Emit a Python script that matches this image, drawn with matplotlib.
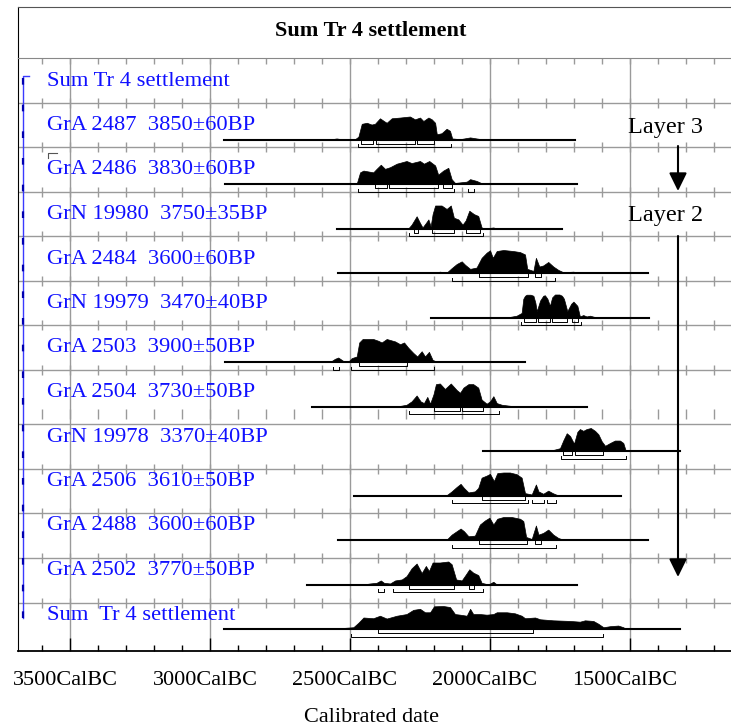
import matplotlib.pyplot as plt
import matplotlib.transforms as mtransforms
import numpy as np

plt.rcParams['font.family'] = ['Liberation Serif', 'DejaVu Serif']

title = "Sum Tr 4 settlement"
labels = ["Sum Tr 4 settlement",
          "GrA 2487  3850\u00b160BP",
          "GrA 2486  3830\u00b160BP",
          "GrN 19980  3750\u00b135BP",
          "GrA 2484  3600\u00b160BP",
          "GrN 19979  3470\u00b140BP",
          "GrA 2503  3900\u00b150BP",
          "GrA 2504  3730\u00b150BP",
          "GrN 19978  3370\u00b140BP",
          "GrA 2506  3610\u00b150BP",
          "GrA 2488  3600\u00b160BP",
          "GrA 2502  3770\u00b150BP",
          "Sum  Tr 4 settlement"]

# probability outlines: (cal BC, relative height)
gra2487 = [(2571, 0), (2548, 1), (2524, 0), (2482, 0.3), (2470, 2.7), (2458, 15), (2440, 16),
           (2423, 14.3), (2411, 15), (2393, 20.3), (2379, 17.7), (2369, 16), (2351, 20.3),
           (2321, 21), (2286, 22), (2268, 19.3), (2250, 21), (2238, 17.7), (2220, 21),
           (2208, 19.3), (2196, 16), (2190, 5), (2173, 6), (2155, 10.3), (2143, 8.3),
           (2135, 1), (2107, 0.3), (2071, 2), (2048, 1), (2024, 0)]
gra2486 = [(2560, 0), (2542, 1), (2524, 0), (2476, 0.3), (2464, 11.3), (2452, 13), (2417, 11.3),
           (2405, 14.7), (2390, 18.7), (2375, 14.7), (2357, 16.3), (2333, 19.7), (2298, 22.3),
           (2280, 20.3), (2250, 22.3), (2236, 19.7), (2217, 22.3), (2196, 18), (2185, 9),
           (2167, 13), (2149, 15.7), (2137, 4.7), (2125, 1), (2083, 2.3), (2071, 4.7),
           (2048, 3), (2024, 0)]
grn19980 = [(2292, 0), (2280, 3.7), (2262, 11.7), (2250, 5.3), (2241, 1), (2229, 5.3), (2220, 8.7),
            (2212, 2), (2205, 13.7), (2196, 22), (2173, 22), (2155, 18.7), (2140, 22),
            (2129, 10.3), (2113, 8.7), (2098, 3.7), (2087, 7.7), (2074, 17), (2057, 13.7),
            (2042, 12), (2030, 1), (2018, 0), (1988, 1), (1976, 0)]
gra2484 = [(2202, 0), (2179, 1.3), (2155, 0.3), (2137, 4.7), (2119, 8.7), (2101, 11.3), (2089, 8),
           (2071, 4), (2048, 5.3), (2030, 14.7), (2012, 19.7), (2000, 22), (1990, 14.7),
           (1976, 21.3), (1952, 22.3), (1917, 21.3), (1893, 20.3), (1875, 18), (1867, 4),
           (1845, 2), (1836, 14.7), (1824, 6.3), (1810, 7.3), (1792, 10.7), (1774, 6.3),
           (1756, 3), (1738, 0.7), (1702, 1.3), (1685, 0)]
grn19979 = [(1940, 0), (1905, 1.7), (1887, 4.3), (1881, 17.7), (1875, 20.5), (1869, 21.5),
            (1855, 21.5), (1845, 20.5), (1838, 14), (1833, 6), (1821, 16), (1810, 20.5),
            (1804, 21), (1795, 17.7), (1786, 11), (1778, 19), (1768, 21.7), (1752, 21.7),
            (1743, 20.5), (1736, 17.7), (1724, 6), (1710, 13), (1702, 15), (1688, 11),
            (1679, 1), (1667, 2.3), (1655, 1), (1643, 1.7), (1619, 0)]
gra2503 = [(2571, 0), (2554, 3), (2542, 4.3), (2524, 1), (2506, 0.3), (2494, 3.7), (2476, 5.3),
           (2467, 18.7), (2455, 22), (2417, 22), (2399, 20.3), (2387, 18.7), (2369, 22),
           (2339, 19.7), (2321, 17), (2307, 18.7), (2292, 13.7), (2274, 8.7), (2260, 5.3),
           (2244, 10.3), (2232, 5.3), (2218, 9.7), (2205, 2), (2190, 0.3), (2155, 1), (2131, 0)]
gra2504 = [(2333, 0), (2298, 1.7), (2280, 5), (2262, 10.7), (2248, 5), (2236, 3.3), (2224, 9.3),
           (2214, 2.7), (2202, 11.7), (2193, 21.7), (2179, 22.3), (2161, 17), (2140, 22.3),
           (2119, 16), (2107, 13.3), (2095, 18.3), (2077, 21.7), (2060, 21.7), (2042, 18.3),
           (2030, 6.7), (2012, 2.7), (2000, 5), (1988, 10), (1976, 3.3), (1958, 1.7),
           (1929, 0.7), (1905, 0)]
grn19978 = [(1869, 0), (1851, 1), (1821, 0.3), (1774, 1), (1750, 2.7), (1738, 10.3), (1726, 17),
            (1714, 14.3), (1700, 7), (1688, 18.3), (1679, 21), (1667, 19.3), (1655, 21),
            (1640, 22), (1625, 19.3), (1613, 16), (1601, 9.3), (1589, 5), (1571, 7.7),
            (1554, 10), (1536, 10), (1524, 7.7), (1515, 0)]
gra2506 = [(2190, 0), (2155, 0.3), (2137, 4), (2119, 8.3), (2105, 11.3), (2093, 7.3), (2077, 3),
           (2054, 4), (2042, 7.3), (2030, 17.3), (2012, 19.3), (2000, 21), (1986, 14),
           (1974, 21.7), (1952, 22.3), (1929, 22.3), (1905, 20.7), (1887, 17.3), (1875, 2.3),
           (1851, 1), (1836, 10.7), (1827, 4), (1810, 1.7), (1792, 4.7), (1776, 2.3),
           (1762, 0.7), (1738, 0)]
gra2488 = [(2202, 0), (2185, 1), (2155, 0.3), (2137, 5.3), (2119, 8.7), (2105, 11.3), (2093, 8.7),
           (2077, 3.7), (2054, 4.3), (2036, 15.3), (2018, 19.3), (2002, 22), (1988, 15.3),
           (1974, 21), (1952, 22.7), (1923, 22.7), (1893, 21), (1881, 18.7), (1871, 3),
           (1851, 1), (1836, 14.3), (1827, 5.3), (1810, 7), (1792, 10.3), (1774, 5.3),
           (1756, 2), (1738, 0.3), (1702, 0.7), (1685, 0)]
gra2502 = [(2452, 0), (2429, 1), (2405, 1.7), (2390, 4), (2379, 1.7), (2357, 1), (2339, 4),
           (2315, 5), (2298, 8.3), (2280, 16), (2262, 20.7), (2244, 11.3), (2229, 18.3),
           (2218, 13.3), (2205, 21.7), (2179, 21.7), (2149, 22.7), (2137, 20), (2121, 5),
           (2101, 4), (2086, 10), (2074, 15), (2060, 11.7), (2042, 9.3), (2030, 1.7),
           (2006, 0), (1988, 2.7), (1976, 0)]
sum_tr4 = [(2548, 0), (2524, 1), (2488, 1.7), (2470, 6), (2452, 11), (2417, 10.3), (2393, 12.7),
           (2369, 10), (2333, 12.7), (2298, 14.3), (2274, 18.3), (2250, 19.3), (2232, 16),
           (2214, 16), (2200, 21.7), (2167, 22), (2143, 21), (2125, 14.3), (2107, 13.7),
           (2083, 12.7), (2071, 19.3), (2060, 14.3), (2036, 14.3), (2012, 13.7), (1988, 14.3),
           (1976, 16), (1940, 16), (1911, 15), (1887, 12.7), (1875, 10.3), (1839, 11),
           (1821, 9.3), (1774, 8.3), (1714, 7.7), (1679, 7), (1661, 8.3), (1631, 7.7),
           (1613, 5), (1595, 1.7), (1571, 2.7), (1542, 3.3), (1524, 1.7), (1514, 0)]

curves = [None, gra2487, gra2486, grn19980, gra2484, grn19979, gra2503, gra2504,
          grn19978, gra2506, gra2488, gra2502, sum_tr4]

# extent of each baseline (cal BC)
spans = [None, (2950, 1696), (2946, 1690), (2548, 1744), (2542, 1437), (2211, 1432),
         (2946, 1875), (2637, 1655), (2024, 1321), (2485, 1532), (2544, 1437),
         (2655, 1688), (2950, 1321)]

one_sigma = [None,
             [(2462, 2419), (2408, 2268), (2260, 2199)],
             [(2410, 2367), (2360, 2187), (2169, 2137)],
             [(2270, 2258), (2208, 2128), (2087, 2036)],
             [(2038, 1865), (1839, 1818)],
             [(1877, 1837), (1827, 1786), (1777, 1726), (1708, 1685)],
             [(2468, 2298)],
             [(2200, 2107), (2099, 2026)],
             [(1738, 1708), (1696, 1598)],
             [(2027, 1875)],
             [(2038, 1867), (1839, 1818)],
             [(2288, 2128), (2076, 2056)],
             [(2399, 1848)]]
two_sigma = [None,
             [(2470, 2139)],
             [(2470, 2128), (2077, 2056)],
             [(2288, 2026)],
             [(2137, 1768)],
             [(1888, 1676)],
             [(2560, 2539), (2498, 2199)],
             [(2288, 1967)],
             [(1748, 1515)],
             [(2137, 1865), (1849, 1806), (1798, 1765)],
             [(2137, 1765)],
             [(2399, 2377), (2348, 2026)],
             [(2498, 1598)]]

major_years = [3500, 3000, 2500, 2000, 1500]
minor_years = list(range(3600, 1100, -100))

# ---- layout (pixels of the 731x727 canvas) ----
W, H = 731, 727
PX = 44.5            # pixels per row
TOP, BOT = 58, 651


def fbox(l, t, r, b):
    return [l / W, 1 - b / H, (r - l) / W, (b - t) / H]


def xd(px):          # canvas pixel -> cal BC
    return 3750 - px * 100 / 28


def yd(py):          # canvas pixel -> row units
    return (py - TOP) / PX


fig = plt.figure(figsize=(W / 100, H / 100), dpi=100)
ax = fig.add_axes(fbox(18, TOP, 731, BOT))
tax = fig.add_axes(fbox(18, 7, 731, TOP))

ax.set_xlim(xd(18), xd(731))
ax.set_ylim((BOT - TOP) / PX, 0)

grid_c = '#9a9a9a'
for yr in major_years:
    ax.axvline(yr, color=grid_c, lw=1, zorder=0)
row_lines = [1, 2, 3, 4, 5, 6, 7, 8.22, 9.24, 10.22, 11.24, 12.25]
for y in row_lines:
    ax.axhline(y, color=grid_c, lw=1, zorder=0)
tick_rows = [1, 2, 3, 4, 5, 6, 7, 8, 9.24, 10.22, 11.24, 12.25]
for y in tick_rows:
    ax.vlines(minor_years, y - 5 / PX, y + 5 / PX, color=grid_c, lw=1, zorder=0)
ax.vlines(minor_years, 0, 6 / PX, color=grid_c, lw=1, zorder=0)

# ---- distributions ----
H_PEAK = 23 / PX
for i, lab in enumerate(labels):
    base = i + 37 / PX
    ax.text(xd(47), base - 9.5 / PX, lab, color='#1010ff', fontsize=16.2,
            ha='left', va='baseline', zorder=5)
    if curves[i] is None:
        continue
    yrs = np.array([p[0] for p in curves[i]], dtype=float)
    den = np.array([p[1] for p in curves[i]], dtype=float)
    den = den / den.max()
    ax.fill_between(yrs, base, base - den * H_PEAK, color='black', lw=0.5, zorder=3)
    ax.plot(spans[i], [base, base], color='black', lw=1.5, zorder=3)
    for a, b in one_sigma[i]:
        y0, y1 = base + 1 / PX, base + 4 / PX
        ax.plot([a, a, b, b], [y0, y1, y1, y0], color='black', lw=0.7, zorder=3)
    for a, b in two_sigma[i]:
        y0, y1 = base + 4.5 / PX, base + 7.5 / PX
        ax.plot([a, a, b, b], [y0, y1, y1, y0], color='black', lw=0.7, zorder=3)

# blue bracket at the left
ax.plot([xd(29), xd(23), xd(23)], [yd(76), yd(76), yd(618)], color='#3a3aff', lw=1, zorder=4)
ax.plot([xd(22.7), xd(22.7)], [yd(78), yd(618)], color='#0000b0', lw=1.6,
        dashes=(3, 9), zorder=4)
ax.plot([xd(57), xd(48), xd(48)], [yd(153.3), yd(153.3), yd(158)], color='#555555',
        lw=0.8, zorder=4)

# layer arrows
ax.text(xd(666), yd(133.5), 'Layer 3', fontsize=17.5, ha='center', va='baseline')
ax.text(xd(666), yd(220.5), 'Layer 2', fontsize=17.5, ha='center', va='baseline')
arrow = dict(arrowstyle='-|>,head_length=0.55,head_width=0.27', color='black', lw=1.5,
             mutation_scale=20, shrinkA=0, shrinkB=0)
ax.annotate('', xy=(xd(678), yd(191)), xytext=(xd(678), yd(146)), arrowprops=arrow)
ax.annotate('', xy=(xd(678), yd(577)), xytext=(xd(678), yd(236)), arrowprops=arrow)

# ---- axes styling ----
for s in ['top', 'right']:
    ax.spines[s].set_visible(False)
ax.spines['left'].set_color('black')
ax.spines['bottom'].set_color('black')
ax.spines['bottom'].set_linewidth(1.3)
ax.set_yticks([])
ax.set_xticks(major_years)
ax.set_xticks(minor_years, minor=True)
ax.tick_params(axis='x', which='major', direction='in', length=9.5, width=1, labelbottom=False)
ax.tick_params(axis='x', which='minor', direction='in', length=4.5, width=1)
lab_tr = mtransforms.offset_copy(ax.get_xaxis_transform(), fig=fig, x=-5, y=0, units='dots')
for yr in major_years:
    ax.text(yr, -(685 - BOT) / (BOT - TOP), f'{yr}CalBC', transform=lab_tr,
            fontsize=16, ha='center', va='baseline')
fig.text((18 + 731) / 2 / W - 3 / W, 1 - 722.5 / H, 'Calibrated date', fontsize=16,
         ha='center', va='baseline')

tax.set_xticks([])
tax.set_yticks([])
tax.spines['right'].set_visible(False)
tax.spines['top'].set_color('#555555')
tax.spines['bottom'].set_color('#888888')
tax.spines['left'].set_color('black')
tax.text((370.5 - 18) / (731 - 18), (TOP - 36) / (TOP - 7), title, transform=tax.transAxes,
         fontsize=16, fontweight='bold', ha='center', va='baseline')

fig.savefig('out.png', dpi=100)
